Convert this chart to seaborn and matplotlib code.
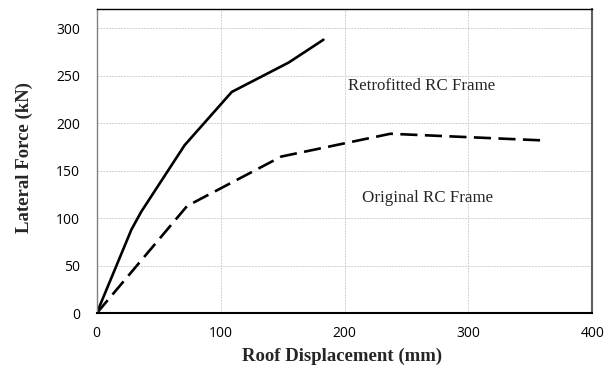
import matplotlib
matplotlib.use("Agg")
import matplotlib.pyplot as plt
import seaborn as sns
import pandas as pd

# Pushover curves: roof displacement (mm) vs lateral force (kN)
retro_disp = [0, 28, 36, 71, 109, 155, 183]
retro_force = [0, 88, 107, 177, 233, 264, 288]
orig_disp = [0, 73, 149, 237, 360]
orig_force = [0, 113, 165, 189, 182]

x_ticks = [0, 100, 200, 300, 400]
y_ticks = [0, 50, 100, 150, 200, 250, 300]

sns.set_theme(style="white")
plt.rcParams["font.family"] = ["Open Sans", "DejaVu Sans"]

df = pd.concat([
    pd.DataFrame({"disp": retro_disp, "force": retro_force, "frame": "Retrofitted RC Frame"}),
    pd.DataFrame({"disp": orig_disp, "force": orig_force, "frame": "Original RC Frame"}),
])

fig, ax = plt.subplots(figsize=(6.13, 3.74), dpi=100)
fig.subplots_adjust(left=0.1577, right=0.9663, top=0.9751, bottom=0.1623)

sns.lineplot(data=df, x="disp", y="force", style="frame", sort=False,
             dashes={"Retrofitted RC Frame": "", "Original RC Frame": (6.5, 2.8)},
             color="black", linewidth=1.9, legend=False, ax=ax)

ax.set_xlim(0, 400)
ax.set_ylim(0, 320)
ax.set_xticks(x_ticks)
ax.set_yticks(y_ticks)
ax.grid(True, color="#d0d0d0", linestyle=(0, (2, 1)), linewidth=0.7)
ax.tick_params(axis="y", labelsize=10, colors="black", length=0, pad=12)
ax.tick_params(axis="x", labelsize=10, colors="black", length=0, pad=9.5)

serif = ["Liberation Serif", "DejaVu Serif"]
ax.set_xlabel("Roof Displacement (mm)", fontsize=13.5, fontweight="bold", family=serif,
              va="center")
ax.set_ylabel("Lateral Force (kN)", fontsize=13.5, fontweight="bold", family=serif,
              va="center")
ax.xaxis.set_label_coords(0.495, -0.14)
ax.yaxis.set_label_coords(-0.1467, 0.514)

ax.text(203, 239.5, "Retrofitted RC Frame", fontsize=12.2, family=serif, va="center", ha="left")
ax.text(214, 121.5, "Original RC Frame", fontsize=12.2, family=serif, va="center", ha="left")

for side, col, lw in [("top", "black", 1.0), ("bottom", "black", 1.5),
                      ("left", "#808080", 1.0), ("right", "#606060", 1.5)]:
    ax.spines[side].set_visible(True)
    ax.spines[side].set_color(col)
    ax.spines[side].set_linewidth(lw)

fig.savefig("out.png", dpi=100)
